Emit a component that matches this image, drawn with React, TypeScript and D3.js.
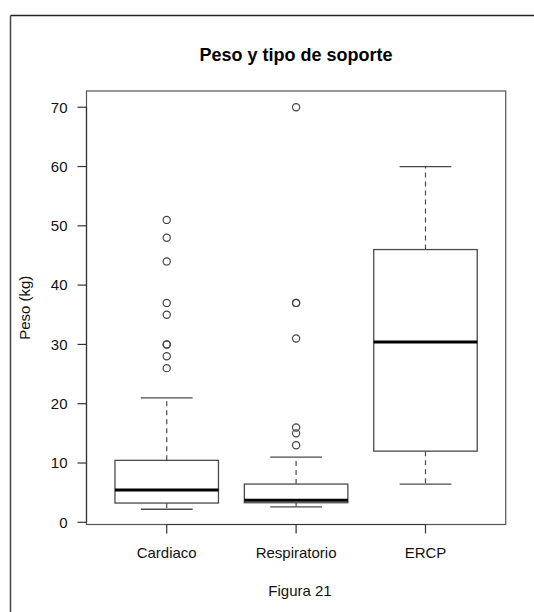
import React from "react";
import * as d3 from "d3";

const categories = ["Cardiaco", "Respiratorio", "ERCP"];
const whiskerLow = [2.2, 2.6, 6.45];
const q1 = [3.25, 3.3, 12];
const medians = [5.45, 3.7, 30.4];
const q3 = [10.45, 6.45, 46];
const whiskerHigh = [21, 11, 60];
const outliers = [
  [51, 48, 44, 37, 35, 30, 30, 28, 26],
  [70, 37, 37, 31, 16, 15, 13],
  [] as number[],
];
const yTicks = [0, 10, 20, 30, 40, 50, 60, 70];
const title = "Peso y tipo de soporte";
const yLabel = "Peso (kg)";
const caption = "Figura 21";

export default function App() {
  const W = 534, H = 612;
  const left = 86.5, right = 505.7, top = 91, bottom = 524.5;
  const x = d3.scaleLinear().domain([0.38, 3.62]).range([left, right]);
  const y = d3.scaleLinear().domain([-0.37, 72.74]).range([bottom, top]);
  const unit = x(1) - x(0);
  const boxHalf = unit * 0.4;
  const capHalf = boxHalf * 0.5;
  const font = "Liberation Sans, Arial, Helvetica, sans-serif";
  const lineCol = "#4a4a4a";

  return (
    <svg width={W} height={H} style={{ position: "absolute", left: 0, top: 0, background: "#fff" }} fontFamily={font}>
      <rect x={0} y={0} width={W} height={H} fill="#fff" />
      {/* outer frame */}
      <line x1={10.5} y1={15.5} x2={W} y2={15.5} stroke="#222" strokeWidth={1.5} />
      <line x1={10.5} y1={15.5} x2={10.5} y2={H} stroke="#444" strokeWidth={1.5} />

      <text x={(left + right) / 2} y={61} textAnchor="middle" fontSize={18} fontWeight="bold" fill="#000">{title}</text>

      {/* plot box */}
      <rect x={left} y={top} width={right - left} height={bottom - top} fill="none" stroke="#555" strokeWidth={1.2} />

      {/* y axis */}
      <line x1={left} x2={left} y1={y(0)} y2={y(70)} stroke="#333" strokeWidth={1.2} />
      {yTicks.map((t) => (
        <g key={t}>
          <line x1={left - 9} x2={left} y1={y(t)} y2={y(t)} stroke="#333" strokeWidth={1.2} />
          <text x={left - 19} y={y(t) + 5.3} textAnchor="end" fontSize={15} fill="#111">{t}</text>
        </g>
      ))}
      <text transform={`translate(30,${(top + bottom) / 2}) rotate(-90)`} textAnchor="middle" fontSize={15} fill="#111">{yLabel}</text>

      {/* x axis */}
      <line x1={x(1)} x2={x(3)} y1={bottom} y2={bottom} stroke="#333" strokeWidth={1.2} />
      {categories.map((c, i) => (
        <g key={c}>
          <line x1={x(i + 1)} x2={x(i + 1)} y1={bottom} y2={bottom + 9} stroke="#333" strokeWidth={1.2} />
          <text x={x(i + 1)} y={558} textAnchor="middle" fontSize={15} fill="#111">{c}</text>
        </g>
      ))}

      {/* boxes */}
      {categories.map((c, i) => {
        const cx = x(i + 1);
        return (
          <g key={"b" + c}>
            <line x1={cx} x2={cx} y1={y(q3[i])} y2={y(whiskerHigh[i])} stroke={lineCol} strokeWidth={1.2} strokeDasharray="5,4" />
            <line x1={cx} x2={cx} y1={y(q1[i])} y2={y(whiskerLow[i])} stroke={lineCol} strokeWidth={1.2} strokeDasharray="5,4" />
            <line x1={cx - capHalf} x2={cx + capHalf} y1={y(whiskerHigh[i])} y2={y(whiskerHigh[i])} stroke={lineCol} strokeWidth={1.3} />
            <line x1={cx - capHalf} x2={cx + capHalf} y1={y(whiskerLow[i])} y2={y(whiskerLow[i])} stroke={lineCol} strokeWidth={1.3} />
            <rect x={cx - boxHalf} y={y(q3[i])} width={boxHalf * 2} height={y(q1[i]) - y(q3[i])} fill="#fff" stroke={lineCol} strokeWidth={1.3} />
            <line x1={cx - boxHalf} x2={cx + boxHalf} y1={y(medians[i])} y2={y(medians[i])} stroke="#000" strokeWidth={3} />
            {outliers[i].map((v, j) => (
              <circle key={j} cx={cx} cy={y(v)} r={3.6} fill="none" stroke="#444" strokeWidth={1.2} />
            ))}
          </g>
        );
      })}

      <text x={300} y={596} textAnchor="middle" fontSize={15} fill="#111">{caption}</text>
    </svg>
  );
}
